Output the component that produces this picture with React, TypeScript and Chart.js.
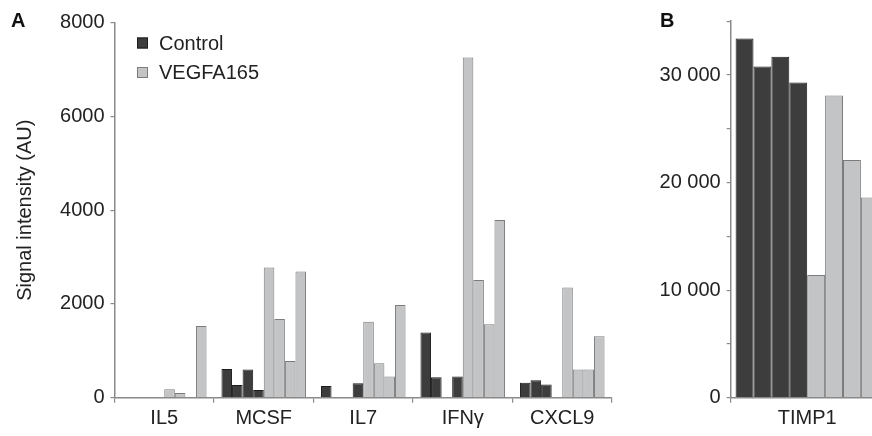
import React, { useEffect, useRef } from 'react';
import { Chart, registerables } from 'chart.js';

Chart.register(...registerables);

// ---------- data ----------
const categoriesA = ['IL5', 'MCSF', 'IL7', 'IFNγ', 'CXCL9'];
const control1 = [0, 610, 250, 1390, 320];
const control2 = [0, 270, 0, 435, 370];
const control3 = [0, 600, 0, 0, 280];
const control4 = [0, 165, 310, 450, 0];
const vegfa1 = [180, 2780, 1620, 7260, 2350];
const vegfa2 = [100, 1680, 735, 2510, 600];
const vegfa3 = [0, 785, 450, 1565, 600];
const vegfa4 = [1530, 2690, 1980, 3790, 1310];

const categoriesB = ['TIMP1'];
const controlB = [33400, 30800, 31700, 29300];
const vegfaB = [11400, 28100, 22100, 18600];

const seriesNames = ['Control', 'VEGFA165'];
const yMaxA = 8000;
const yStepA = 2000;
const yMaxB = 35000;
const yStepB = 5000;
const yLabelStepB = 10000;

// ---------- styles ----------
const FONT = '"Liberation Sans", Arial, Helvetica, sans-serif';
const TEXT = '#222222';
const AXIS = '#8a8a8a';
const CONTROL_FILL = '#3d3d3d';
const CONTROL_BORDER = '#1c1c1c';
const VEGFA_FILL = '#c3c4c6';
const VEGFA_BORDER = '#7c7c7c';

const W = 872;
const H = 436;
const ZERO_Y = 397.7;

const legendPlugin = {
  id: 'customLegend',
  afterDraw(chart: any) {
    const opts = chart.options.plugins.customLegend;
    if (!opts || !opts.show) return;
    const ctx = chart.ctx;
    ctx.save();
    ctx.font = `20px ${FONT}`;
    ctx.textBaseline = 'middle';
    ctx.textAlign = 'left';
    const items = [
      { label: seriesNames[0], fill: CONTROL_FILL, stroke: CONTROL_BORDER },
      { label: seriesNames[1], fill: VEGFA_FILL, stroke: VEGFA_BORDER },
    ];
    items.forEach((it, i) => {
      const cy = opts.y + i * opts.gap;
      ctx.fillStyle = it.fill;
      ctx.strokeStyle = it.stroke;
      ctx.lineWidth = 1;
      ctx.fillRect(opts.x, cy - 5.5, 11, 11);
      ctx.strokeRect(opts.x + 0.5, cy - 5, 10, 10);
      ctx.fillStyle = TEXT;
      ctx.fillText(it.label, opts.x + 22, cy + 1);
    });
    ctx.restore();
  },
};

const panelLabelPlugin = {
  id: 'panelLabel',
  afterDraw(chart: any) {
    const opts = chart.options.plugins.panelLabel;
    if (!opts) return;
    const ctx = chart.ctx;
    ctx.save();
    ctx.font = `bold 20px ${FONT}`;
    ctx.fillStyle = '#111';
    ctx.textBaseline = 'alphabetic';
    ctx.textAlign = 'left';
    ctx.fillText(opts.text, opts.x, opts.y);
    ctx.restore();
  },
};

function makeDatasets(ctrl: number[][], veg: number[][]) {
  const ds: any[] = [];
  ctrl.forEach((d, i) => {
    ds.push({
      label: `${seriesNames[0]} ${i + 1}`,
      data: d,
      backgroundColor: CONTROL_FILL,
      borderColor: CONTROL_BORDER,
      borderWidth: 1,
    });
  });
  veg.forEach((d, i) => {
    ds.push({
      label: `${seriesNames[1]} ${i + 1}`,
      data: d,
      backgroundColor: VEGFA_FILL,
      borderColor: VEGFA_BORDER,
      borderWidth: 1,
    });
  });
  return ds;
}

function fmtThousands(v: number) {
  const s = String(Math.round(v));
  if (s.length <= 4) return s;
  return s.slice(0, s.length - 3) + ' ' + s.slice(s.length - 3);
}

export default function App() {
  const refA = useRef<HTMLCanvasElement | null>(null);
  const refB = useRef<HTMLCanvasElement | null>(null);

  useEffect(() => {
    const wA = 640;
    const leftA = 114.5;
    const rightA = 612;
    const topA = 22.7;

    const chartA = new Chart(refA.current as HTMLCanvasElement, {
      type: 'bar',
      data: {
        labels: categoriesA,
        datasets: makeDatasets(
          [control1, control2, control3, control4],
          [vegfa1, vegfa2, vegfa3, vegfa4]
        ),
      },
      plugins: [legendPlugin, panelLabelPlugin],
      options: {
        animation: false,
        responsive: false,
        layout: { padding: { left: 0, right: wA - rightA, top: topA, bottom: 0 } },
        datasets: { bar: { categoryPercentage: 0.85, barPercentage: 1 } },
        plugins: {
          legend: { display: false },
          tooltip: { enabled: false },
          customLegend: { show: true, x: 137, y: 43, gap: 29.5 },
          panelLabel: { text: 'A', x: 11, y: 27 },
        } as any,
        scales: {
          x: {
            type: 'category',
            grid: {
              display: true,
              offset: true,
              drawOnChartArea: false,
              drawTicks: true,
              tickLength: 5,
              color: AXIS,
              lineWidth: 1.2,
            },
            border: { display: true, color: AXIS, width: 1.5 },
            ticks: {
              color: TEXT,
              font: { family: FONT, size: 20 },
              padding: 4,
              maxRotation: 0,
              autoSkip: false,
            },
            afterFit: (scale: any) => {
              scale.height = H - ZERO_Y;
            },
          },
          y: {
            min: 0,
            max: yMaxA,
            ticks: {
              stepSize: yStepA,
              color: TEXT,
              font: { family: FONT, size: 20 },
              padding: 6,
              callback: (v: any) => fmtThousands(Number(v)),
            },
            grid: {
              display: true,
              drawOnChartArea: false,
              drawTicks: true,
              tickLength: 4,
              color: AXIS,
              lineWidth: 1.2,
            },
            border: { display: true, color: AXIS, width: 1.5 },
            title: {
              display: true,
              text: 'Signal intensity (AU)',
              color: TEXT,
              font: { family: FONT, size: 20, weight: 'normal' },
              padding: { top: 13, bottom: 0 },
            },
            afterFit: (scale: any) => {
              scale.width = leftA;
            },
          },
        },
      } as any,
    });

    const wB = 260;
    const leftB = 90.7;
    const catWidthB = 153;
    const topB = 21.2;

    const chartB = new Chart(refB.current as HTMLCanvasElement, {
      type: 'bar',
      data: {
        labels: categoriesB,
        datasets: makeDatasets(
          controlB.map((v) => [v]),
          vegfaB.map((v) => [v])
        ),
      },
      plugins: [panelLabelPlugin],
      options: {
        animation: false,
        responsive: false,
        layout: { padding: { left: 0, right: wB - leftB - catWidthB, top: topB, bottom: 0 } },
        datasets: { bar: { categoryPercentage: 0.936, barPercentage: 1 } },
        plugins: {
          legend: { display: false },
          tooltip: { enabled: false },
          panelLabel: { text: 'B', x: 20, y: 27 },
        } as any,
        scales: {
          x: {
            type: 'category',
            grid: {
              display: true,
              offset: true,
              drawOnChartArea: false,
              drawTicks: true,
              tickLength: 5,
              color: AXIS,
              lineWidth: 1.2,
            },
            border: { display: true, color: AXIS, width: 1.5 },
            ticks: {
              color: TEXT,
              font: { family: FONT, size: 20 },
              padding: 4,
              maxRotation: 0,
              autoSkip: false,
            },
            afterFit: (scale: any) => {
              scale.height = H - ZERO_Y;
            },
          },
          y: {
            min: 0,
            max: yMaxB,
            ticks: {
              stepSize: yStepB,
              color: TEXT,
              font: { family: FONT, size: 20 },
              padding: 6,
              autoSkip: false,
              callback: (v: any) => (Number(v) % yLabelStepB === 0 ? fmtThousands(Number(v)) : ''),
            },
            grid: {
              display: true,
              drawOnChartArea: false,
              drawTicks: true,
              tickLength: 4,
              color: AXIS,
              lineWidth: 1.2,
            },
            border: { display: true, color: AXIS, width: 1.5 },
            afterFit: (scale: any) => {
              scale.width = leftB;
            },
          },
        },
      } as any,
    });

    return () => {
      chartA.destroy();
      chartB.destroy();
    };
  }, []);

  return (
    <div
      style={{
        position: 'absolute',
        left: 0,
        top: 0,
        width: W,
        height: H,
        overflow: 'hidden',
        background: '#ffffff',
      }}
    >
      <canvas
        ref={refA}
        width={640}
        height={H}
        style={{ position: 'absolute', left: 0, top: 0, width: 640, height: H }}
      />
      <canvas
        ref={refB}
        width={260}
        height={H}
        style={{ position: 'absolute', left: 640, top: 0, width: 260, height: H }}
      />
    </div>
  );
}
